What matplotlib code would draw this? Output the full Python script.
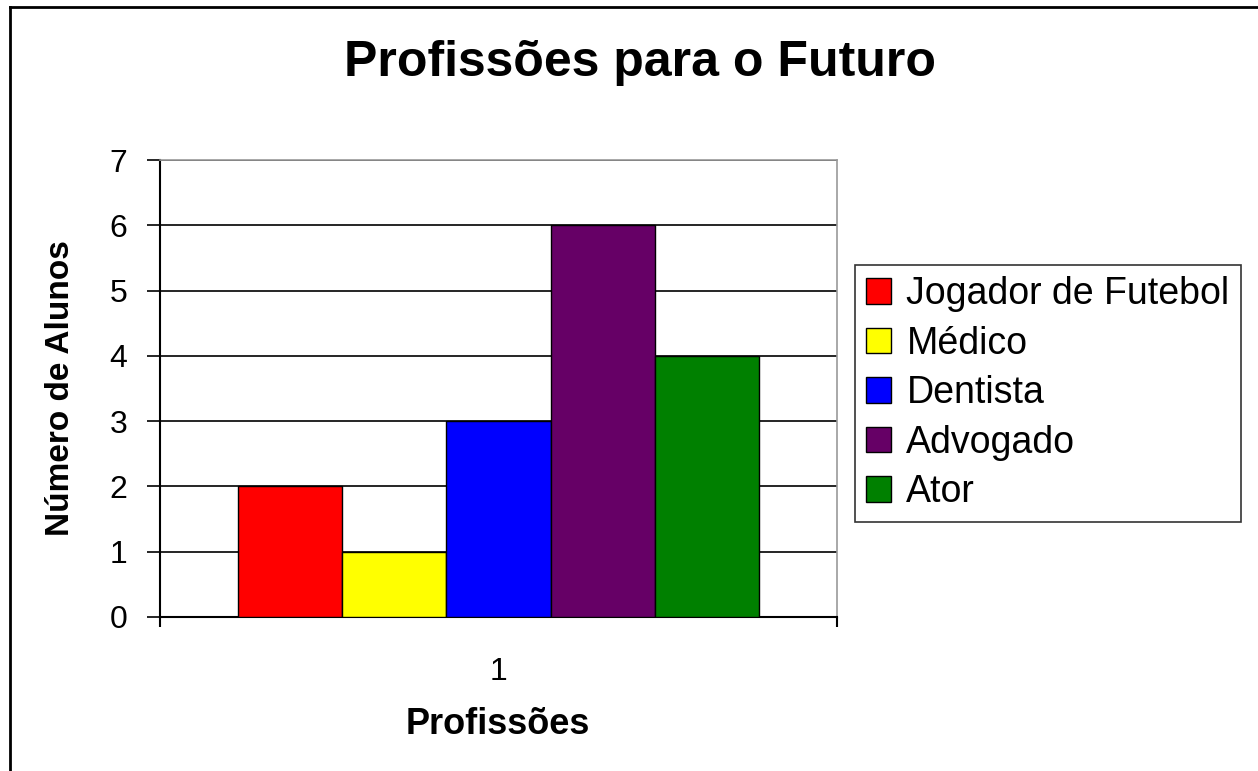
import matplotlib
matplotlib.use("Agg")
import matplotlib.pyplot as plt
from matplotlib.patches import Patch
from matplotlib.lines import Line2D
import numpy as np

plt.rcParams['font.family'] = ['Liberation Sans', 'DejaVu Sans']

categories = ["1"]
series = ["Jogador de Futebol", "Médico", "Dentista", "Advogado", "Ator"]
values = [2, 1, 3, 6, 4]
colors = ["#FF0000", "#FFFF00", "#0000FF", "#660066", "#008000"]
yticks = [0, 1, 2, 3, 4, 5, 6, 7]

W, H = 1258, 771
fig = plt.figure(figsize=(W / 100, H / 100), dpi=100)
fig.patch.set_facecolor("white")

# plot area in pixels
L, R, T, B = 160, 837, 160, 617
ax = fig.add_axes([L / W, 1 - B / H, (R - L) / W, (B - T) / H])

n = len(series)
group_w = 0.771
bw = group_w / n
x0 = 1 - group_w / 2
for i, (s, v, c) in enumerate(zip(series, values, colors)):
    ax.bar(x0 + bw * (i + 0.5), v, width=bw, color=c, edgecolor="black",
           linewidth=1.0, label=s, zorder=3)

ax.set_xlim(0.5, 1.5)
ax.set_ylim(0, 7)
ax.set_yticks(yticks)
ax.set_yticklabels([str(t) for t in yticks], fontsize=23)
ax.set_xticks([1])
ax.set_xticklabels(categories, fontsize=23)
ax.xaxis.set_minor_locator(matplotlib.ticker.FixedLocator([0.5, 1.5]))
ax.tick_params(axis='x', which='major', length=0, pad=29)
ax.tick_params(axis='x', which='minor', length=7, width=1.5, direction='out', color='black')
ax.tick_params(axis='y', length=9.5, width=1.2, direction='out', pad=14, color='black')
ax.yaxis.grid(True, color="black", linewidth=1.2, zorder=0)
ax.set_axisbelow(True)
for sp in ["top", "right"]:
    ax.spines[sp].set_color("#999999")
    ax.spines[sp].set_linewidth(1.2)
for sp in ["left", "bottom"]:
    ax.spines[sp].set_color("black")
    ax.spines[sp].set_linewidth(1.5)

ax.set_ylabel("Número de Alunos", fontsize=24, fontweight="bold", labelpad=24)
fig.text(498 / W, 1 - 724 / H, "Profissões", fontsize=26, fontweight="bold",
         ha="center", va="center")

fig.text(640 / W, 1 - 63 / H, "Profissões para o Futuro", fontsize=36,
         fontweight="bold", ha="center", va="center")

handles = [Patch(facecolor=c, edgecolor="black", linewidth=1.0) for c in colors]
leg = fig.legend(handles, series, loc="upper left",
                 bbox_to_anchor=(855 / W, 1 - 265 / H), fontsize=27,
                 frameon=True, fancybox=False, edgecolor="black",
                 handlelength=0.67, handleheight=0.67, handletextpad=0.4,
                 labelspacing=0.36, borderpad=0.3, borderaxespad=0)
leg.get_frame().set_linewidth(1.2)

# outer frame lines (left and top)
fig.add_artist(Line2D([10 / W, 10 / W], [0, 1 - 7 / H], color="black", linewidth=2.0,
                      transform=fig.transFigure))
fig.add_artist(Line2D([10 / W, 1], [1 - 7 / H, 1 - 7 / H], color="black", linewidth=2.0,
                      transform=fig.transFigure))

fig.savefig("out.png", dpi=100)
